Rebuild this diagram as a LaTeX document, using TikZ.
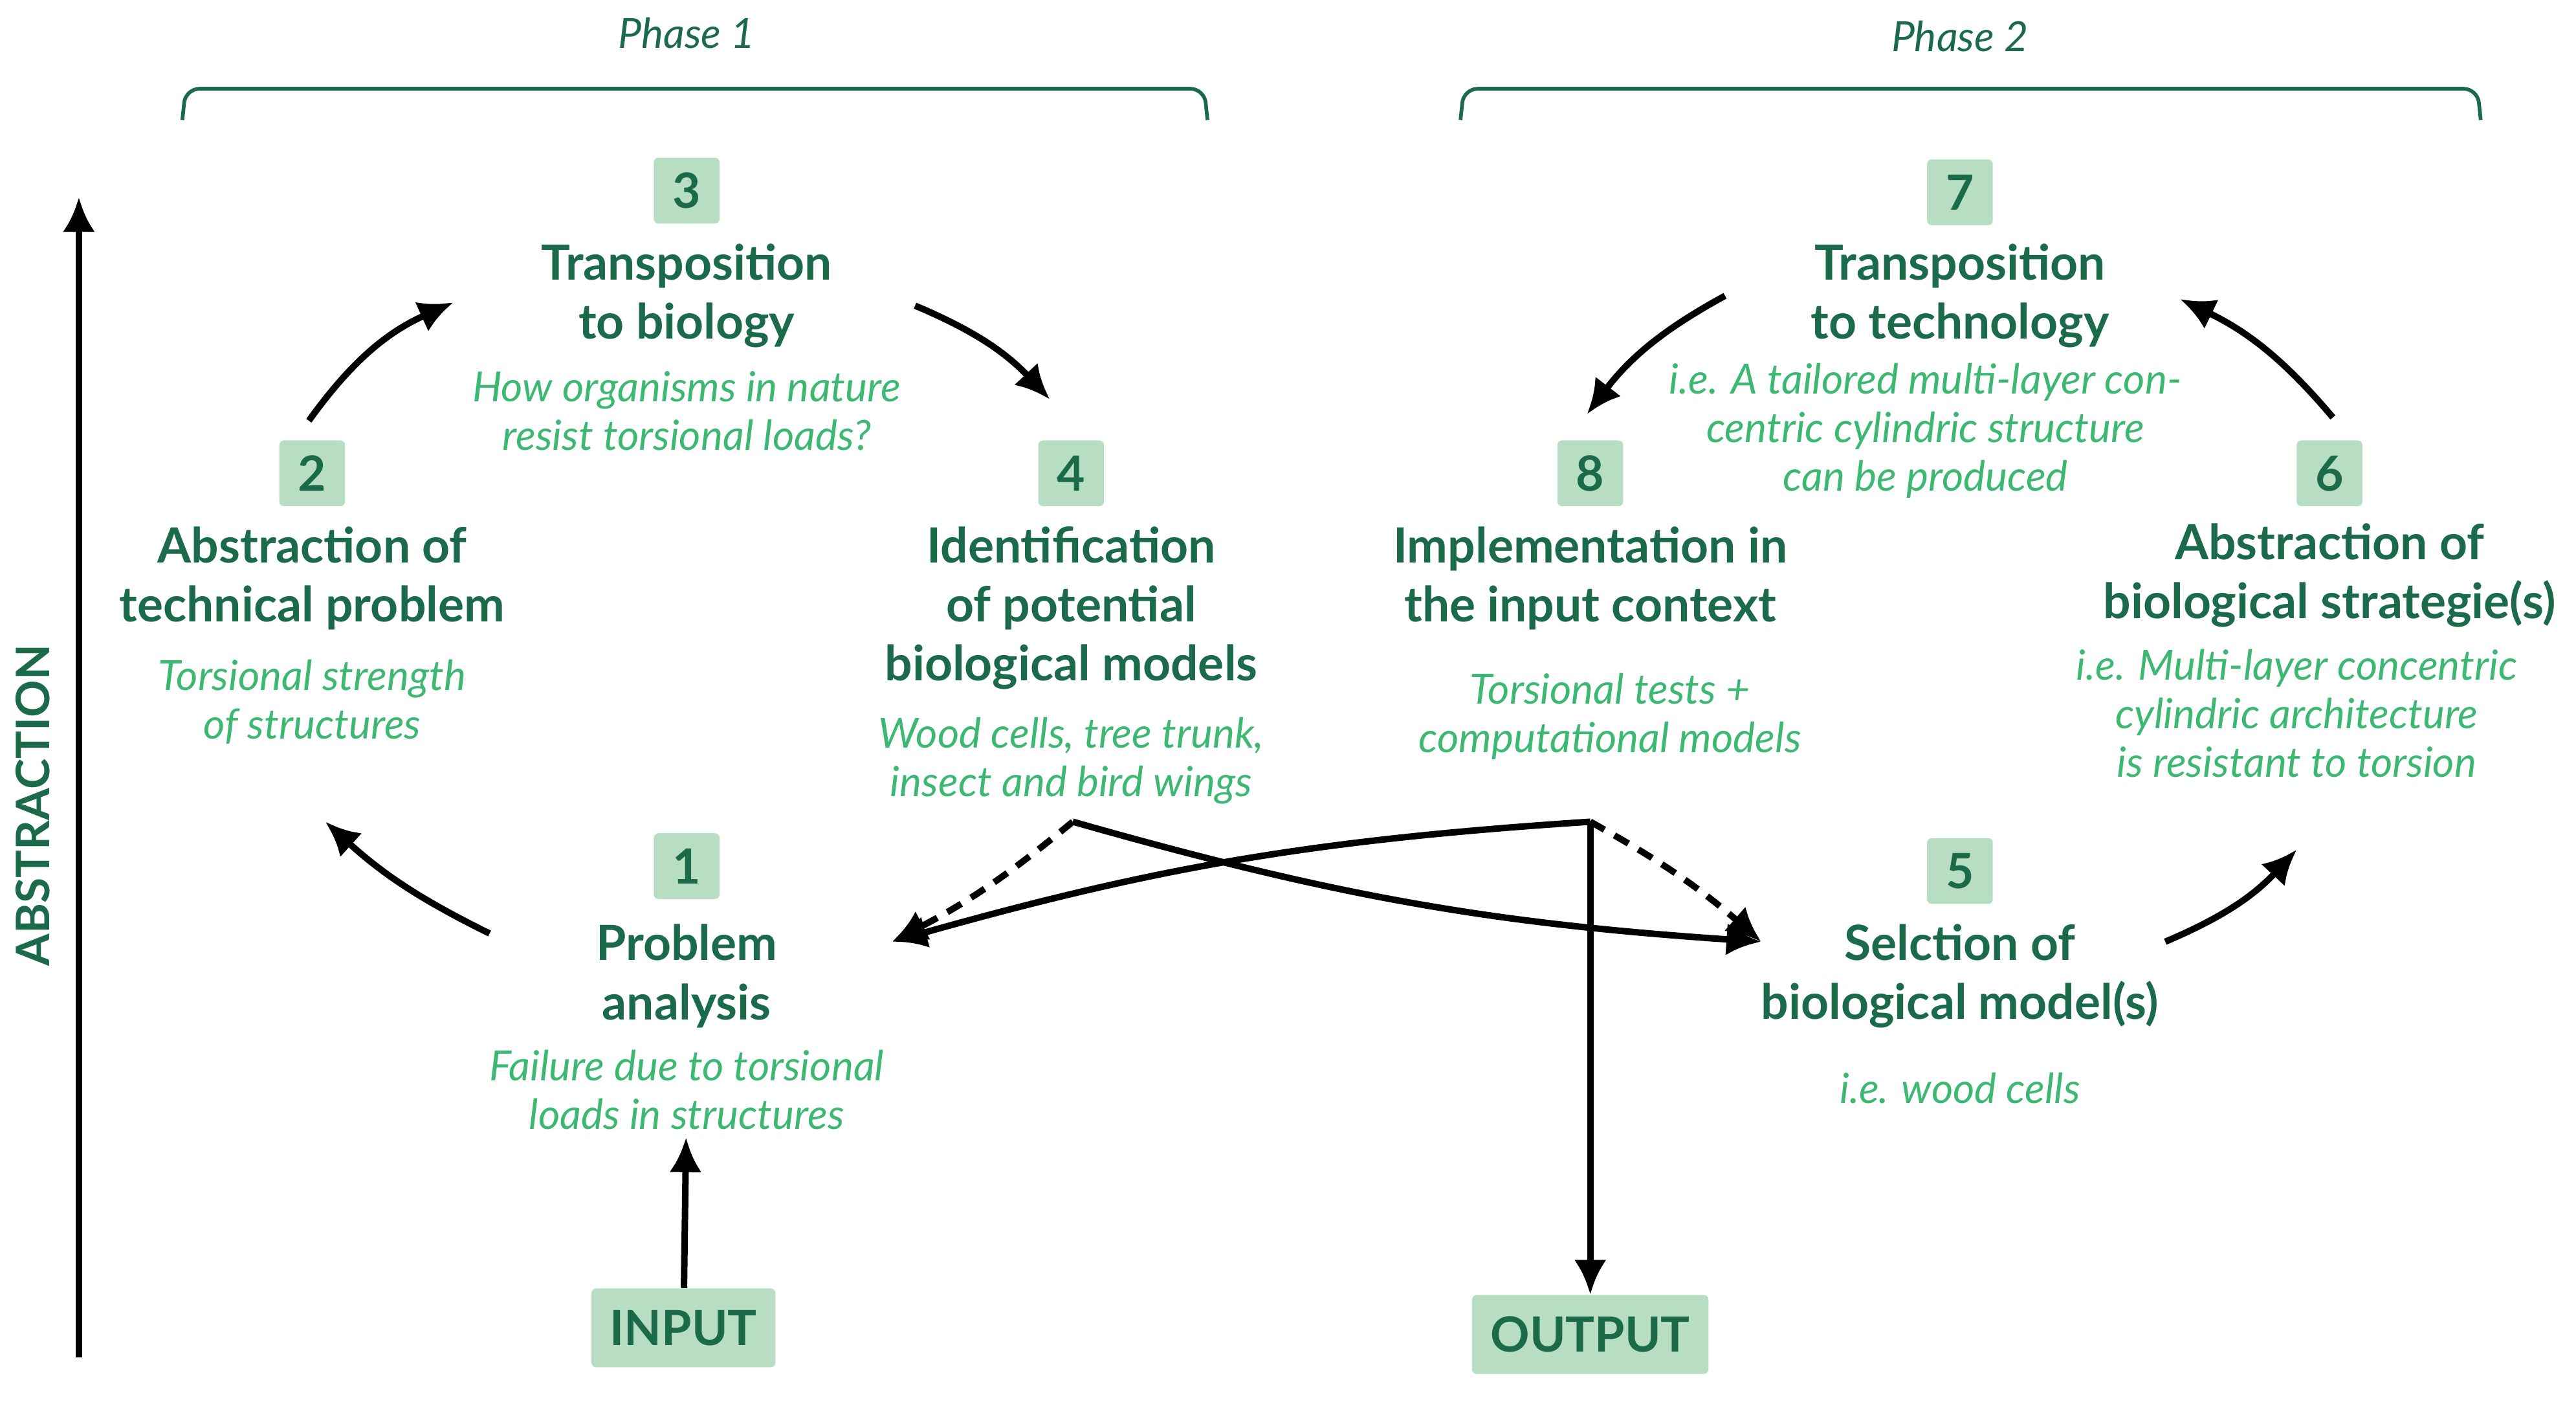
\documentclass[tikz,border=0pt]{standalone}
\usepackage{fontspec}
\setmainfont{Lato}
\usetikzlibrary{arrows.meta}
\definecolor{dg}{HTML}{1B6A4A}
\definecolor{lg}{HTML}{3DB873}
\definecolor{bg}{HTML}{B7DEC2}
\begin{document}
\begin{tikzpicture}[x=0.025cm,y=-0.025cm,
  title/.style={align=center,text=dg,font=\fontsize{21}{25.6}\selectfont\bfseries},
  ital/.style={align=center,text=lg,font=\fontsize{18}{21}\selectfont\itshape},
  badge/.style={fill=bg,rounded corners=2pt,text=dg,font=\fontsize{21}{24}\selectfont\bfseries,minimum width=1cm,minimum height=1cm,inner sep=0pt},
  io/.style={fill=bg,rounded corners=2pt,text=dg,font=\fontsize{21}{24}\selectfont\bfseries,minimum height=1.2cm,inner xsep=8pt},
  arr/.style={line width=2.8pt,-{Latex[length=15pt,width=14pt]}},
  brk/.style={dg,line width=1.6pt,rounded corners=6pt},
  phase/.style={text=dg,font=\fontsize{18}{20}\selectfont\itshape}]
\useasboundingbox (0,0) rectangle (1568,854);
% phases
\node[phase] (ph1) at (418,20) {Phase 1};
\node[phase] (ph2) at (1193,22) {Phase 2};
\draw[brk] (111,73) -- (113,54) -- (733,54) -- (735,73);
\draw[brk] (889,73) -- (891,54) -- (1508,54) -- (1510,73);
% abstraction axis
\coordinate (ab0) at (48,826);
\coordinate (ab1) at (48,120);
\draw[arr] (ab0) -- (ab1);
\node[rotate=90,text=dg,font=\fontsize{20}{22}\selectfont\bfseries] (abs) at (20,490) {ABSTRACTION};
% badges
\node[badge] (b3) at (418,116) {3};
\node[badge] (b2) at (190,288) {2};
\node[badge] (b4) at (652,288) {4};
\node[badge] (b1) at (418,527) {1};
\node[badge] (b7) at (1193,117) {7};
\node[badge] (b8) at (968,288) {8};
\node[badge] (b6) at (1418,288) {6};
\node[badge] (b5) at (1193,530) {5};
% texts
\node[title] (t3) at (418,180) {Transposition\\to biology};
\node[ital] (i3) at (418,250) {How organisms in nature\\resist torsional loads?};
\node[title] (t2) at (190,352) {Abstraction of\\technical problem};
\node[ital] (i2) at (190,427) {Torsional strength\\of structures};
\node[title] (t4) at (652,370) {Identification\\of potential\\biological models};
\node[ital] (i4) at (652,463) {Wood cells, tree trunk,\\insect and bird wings};
\node[title] (t1) at (418,594) {Problem\\analysis};
\node[ital] (i1) at (418,663) {Failure due to torsional\\loads in structures};
\node[title] (t7) at (1193,180) {Transposition\\to technology};
\node[ital] (i7) at (1172,262) {i.e. A tailored multi-layer con-\\centric cylindric structure\\can be produced};
\node[title] (t8) at (968,352) {Implementation in\\the input context};
\node[ital] (i8) at (980,436) {Torsional tests +\\computational models};
\node[title] (t6) at (1418,350) {Abstraction of\\biological strategie(s)};
\node[ital] (i6) at (1398,434) {i.e. Multi-layer concentric\\cylindric architecture\\is resistant to torsion};
\node[title] (t5) at (1193,594) {Selction of\\biological model(s)};
\node[ital] (i5) at (1193,662) {i.e. wood cells};
\node[io] (in) at (416,808) {INPUT};
\node[io] (out) at (968,812) {OUTPUT};
% cycle arrows
\coordinate (c21) at (188,256); \coordinate (c22) at (276,184);
\draw[arr] (c21) to[bend left=15] (c22);
\coordinate (c31) at (557,186); \coordinate (c32) at (639,243);
\draw[arr] (c31) to[bend left=12] (c32);
\coordinate (c11) at (298,568); \coordinate (c12) at (198,500);
\draw[arr] (c11) to[bend left=8] (c12);
\coordinate (c51) at (1318,573); \coordinate (c52) at (1398,517);
\draw[arr] (c51) to[bend right=12] (c52);
\coordinate (c61) at (1420,254); \coordinate (c62) at (1327,182);
\draw[arr] (c61) to[bend right=12] (c62);
\coordinate (c71) at (1050,180); \coordinate (c72) at (966,252);
\draw[arr] (c71) to[bend right=12] (c72);
\draw[arr] (in) -- (i1);
% crossing
\coordinate (p4) at (653,500);
\coordinate (p8) at (968,500);
\coordinate (a1) at (543,573);
\coordinate (a5) at (1072,573);
\draw[arr] (p4) to[bend right=6] (a5);
\draw[arr] (p8) to[bend left=-6] (a1);
\draw[arr,dash pattern=on 7pt off 5pt] (p4) to[bend left=6] (a1);
\draw[arr,dash pattern=on 7pt off 5pt] (p8) to[bend left=6] (a5);
\draw[arr] (p8) -- (out);
\end{tikzpicture}
\end{document}
